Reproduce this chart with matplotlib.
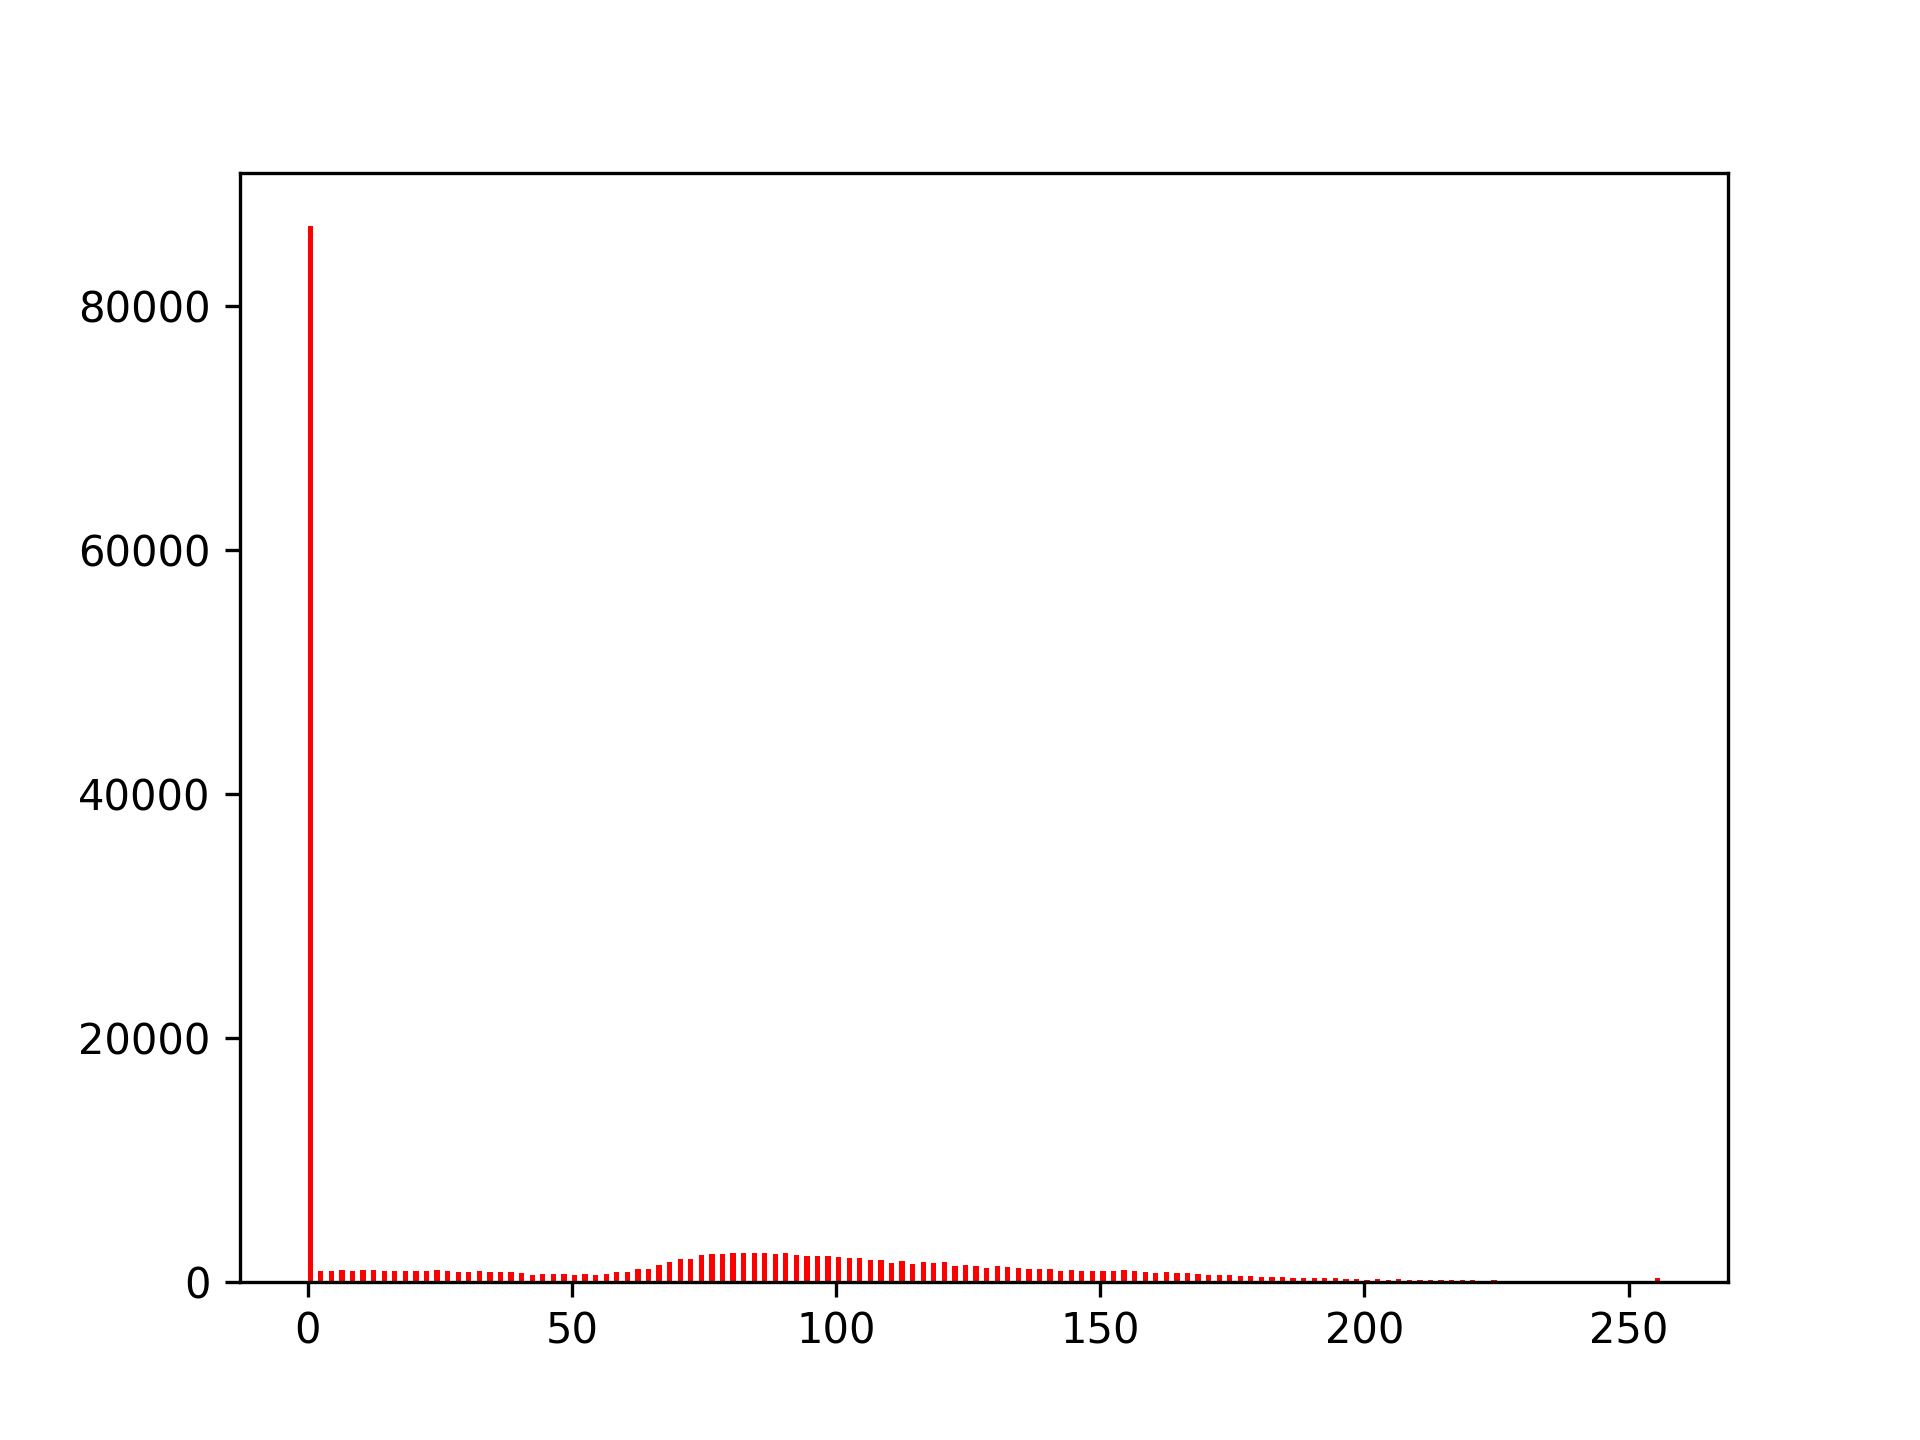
import matplotlib
matplotlib.use("Agg")
import matplotlib.pyplot as plt

pixel_values = list(range(0, 221, 2)) + [224, 255]
counts = [
    86600, 850, 850, 930, 850, 930, 930, 850, 850, 850,   # 0-18
    850, 850, 930, 850, 765, 765, 850, 765, 765, 765,     # 20-38
    680, 575, 655, 655, 655, 575, 655, 575, 655, 820,     # 40-58
    820, 1065, 1065, 1390, 1640, 1885, 1885, 2215, 2295, 2295,  # 60-78
    2380, 2380, 2380, 2380, 2295, 2380, 2215, 2130, 2130, 2130,  # 80-98
    2050, 1965, 1965, 1805, 1805, 1555, 1720, 1475, 1640, 1555,  # 100-118
    1640, 1310, 1390, 1310, 1150, 1310, 1230, 1150, 1065, 1065,  # 120-138
    1065, 900, 985, 900, 900, 900, 900, 985, 900, 820,    # 140-158
    740, 820, 740, 740, 655, 575, 575, 575, 490, 490,     # 160-178
    410, 410, 410, 330, 330, 330, 330, 330, 245, 245,     # 180-198
    165, 245, 165, 245, 165, 165, 165, 165, 165, 165,     # 200-218
    165,                                                  # 220
    165, 330,                                             # 224, 255
]

fig = plt.figure(figsize=(6.4, 4.8), dpi=300)
plt.hist(pixel_values, bins=256, range=(0, 256), weights=counts, color='r')
fig.savefig("out.png", dpi=300)
